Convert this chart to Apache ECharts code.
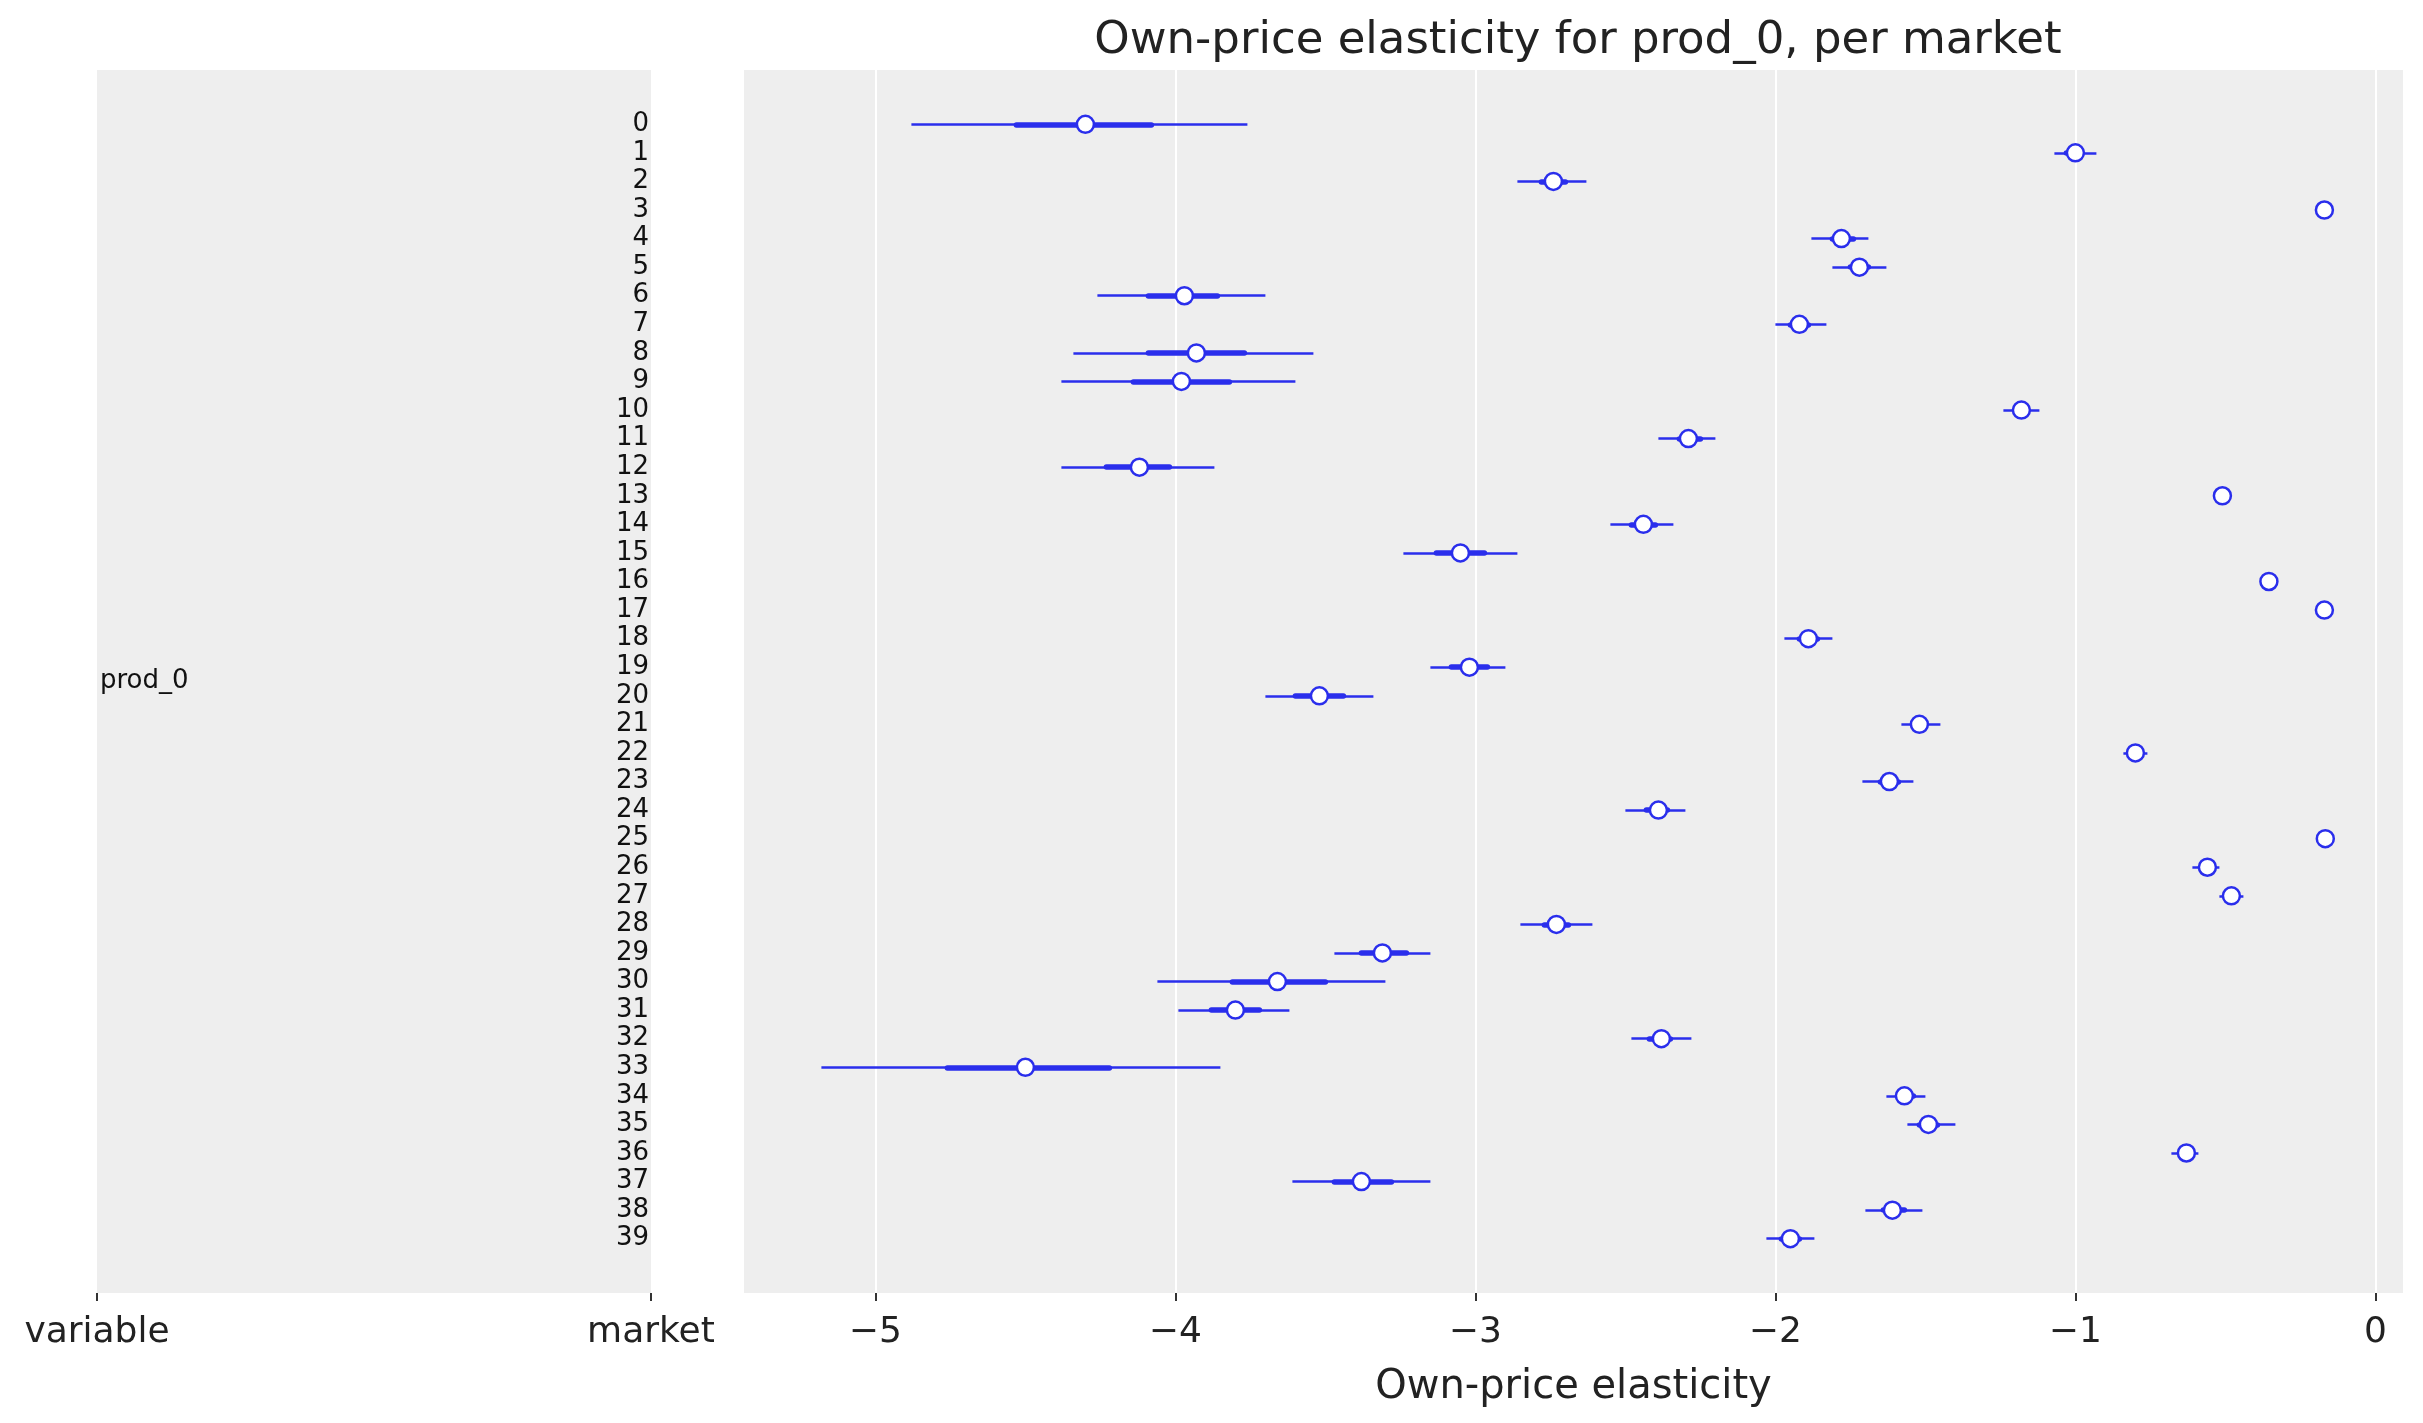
<!DOCTYPE html>
<html>
<head>
<meta charset="utf-8">
<script src="https://cdn.jsdelivr.net/npm/echarts@6/dist/echarts.min.js"></script>
<style>
  html, body { margin: 0; padding: 0; background: #fff; }
  #chart { width: 2423px; height: 1423px; }
</style>
</head>
<body>
<div id="chart"></div>
<script>
// markets 0..39, posterior of own-price elasticity for prod_0
const markets = ['0','1','2','3','4','5','6','7','8','9','10','11','12','13','14','15','16','17','18','19',
                 '20','21','22','23','24','25','26','27','28','29','30','31','32','33','34','35','36','37','38','39'];
const variables = ['prod_0'];
const variablePos = [19.5];
const panelLabels = ['variable', 'market'];
const xTicks = [-5, -4, -3, -2, -1, 0];

const medians = [-4.30, -1.00, -2.74, -0.17, -1.78, -1.72, -3.97, -1.92, -3.93, -3.98,
                 -1.18, -2.29, -4.12, -0.51, -2.44, -3.05, -0.355, -0.17, -1.89, -3.02,
                 -3.52, -1.52, -0.80, -1.62, -2.39, -0.167, -0.56, -0.48, -2.73, -3.31,
                 -3.66, -3.80, -2.38, -4.50, -1.57, -1.49, -0.63, -3.38, -1.61, -1.95];
// 94% HDI
const hdi94Low  = [-4.88, -1.07, -2.86, -0.175, -1.88, -1.81, -4.26, -2.00, -4.34, -4.38,
                   -1.24, -2.39, -4.38, -0.52, -2.55, -3.24, -0.365, -0.175, -1.97, -3.15,
                   -3.70, -1.58, -0.84, -1.71, -2.50, -0.172, -0.61, -0.52, -2.85, -3.47,
                   -4.06, -3.99, -2.48, -5.18, -1.63, -1.56, -0.68, -3.61, -1.70, -2.03];
const hdi94High = [-3.76, -0.93, -2.63, -0.165, -1.69, -1.63, -3.70, -1.83, -3.54, -3.60,
                   -1.12, -2.20, -3.87, -0.50, -2.34, -2.86, -0.345, -0.165, -1.81, -2.90,
                   -3.34, -1.45, -0.76, -1.54, -2.30, -0.162, -0.52, -0.44, -2.61, -3.15,
                   -3.30, -3.62, -2.28, -3.85, -1.50, -1.40, -0.59, -3.15, -1.51, -1.87];
// 50% HDI
const hdi50Low  = [-4.53, -1.03, -2.78, -0.172, -1.81, -1.75, -4.09, -1.95, -4.09, -4.14,
                   -1.20, -2.32, -4.23, -0.515, -2.48, -3.13, -0.36, -0.172, -1.92, -3.08,
                   -3.60, -1.54, -0.81, -1.65, -2.43, -0.169, -0.575, -0.495, -2.77, -3.38,
                   -3.81, -3.88, -2.42, -4.76, -1.59, -1.52, -0.65, -3.47, -1.64, -1.98];
const hdi50High = [-4.08, -0.98, -2.70, -0.168, -1.74, -1.69, -3.86, -1.89, -3.77, -3.82,
                   -1.16, -2.25, -4.02, -0.505, -2.40, -2.97, -0.35, -0.168, -1.86, -2.96,
                   -3.44, -1.50, -0.785, -1.59, -2.36, -0.165, -0.545, -0.465, -2.69, -3.23,
                   -3.50, -3.72, -2.35, -4.22, -1.54, -1.46, -0.615, -3.28, -1.57, -1.92];

const BLUE = '#2a2eec';
const FONT = 'DejaVu Sans';
const rowIdx = markets.map((m, i) => i);

const chart = echarts.init(document.getElementById('chart'));

const option = {
    animation: false,
    backgroundColor: '#ffffff',
    textStyle: { fontFamily: FONT, color: '#222' },
    title: {
        text: 'Own-price elasticity for prod_0, per market',
        left: 1573,
        top: 14,
        textAlign: 'center',
        textStyle: { fontFamily: FONT, fontSize: 45, fontWeight: 'normal', color: '#222' }
    },
    grid: [
        { left: 97, top: 70, width: 554, height: 1223, show: true, backgroundColor: '#eeeeee', borderWidth: 0 },
        { left: 744, top: 70, width: 1659, height: 1223, show: true, backgroundColor: '#eeeeee', borderWidth: 0 }
    ],
    xAxis: [
        {
            gridIndex: 0, type: 'value', min: 0, max: 1, interval: 1, position: 'bottom',
            axisLine: { show: false, onZero: false },
            axisTick: { show: true, length: 8, lineStyle: { color: '#333', width: 2 } },
            splitLine: { show: false },
            axisLabel: {
                fontSize: 36, color: '#222', margin: 22, fontFamily: FONT,
                showMinLabel: true, showMaxLabel: true,
                formatter: v => panelLabels[v]
            }
        },
        {
            gridIndex: 1, type: 'value', min: -5.438, max: 0.092, position: 'bottom',
            name: 'Own-price elasticity', nameLocation: 'middle', nameGap: 75,
            nameTextStyle: { fontSize: 40, color: '#222', fontFamily: FONT },
            axisLine: { show: false, onZero: false },
            axisTick: { show: true, length: 8, customValues: xTicks, lineStyle: { color: '#333', width: 2 } },
            splitLine: { show: true, lineStyle: { color: '#ffffff', width: 2 } },
            axisLabel: {
                fontSize: 36, color: '#222', margin: 22, fontFamily: FONT,
                customValues: xTicks,
                formatter: v => String(v).replace('-', '\u2212')
            }
        }
    ],
    yAxis: [
        {
            gridIndex: 0, type: 'value', inverse: true, min: -1.9, max: 40.9, position: 'right',
            axisLine: { show: false, onZero: false }, axisTick: { show: false }, splitLine: { show: false },
            axisLabel: {
                inside: true, margin: 2, fontSize: 26, color: '#111', fontFamily: FONT,
                padding: [5, 0, 0, 0],
                customValues: rowIdx,
                formatter: v => markets[Math.round(v)]
            }
        },
        {
            gridIndex: 0, type: 'value', inverse: true, min: -1.9, max: 40.9, position: 'left',
            axisLine: { show: false, onZero: false }, axisTick: { show: false }, splitLine: { show: false },
            axisLabel: {
                inside: true, margin: 3, fontSize: 26, color: '#111', fontFamily: FONT,
                padding: [5, 0, 0, 0],
                customValues: variablePos,
                formatter: v => variables[variablePos.indexOf(v)]
            }
        },
        {
            gridIndex: 1, type: 'value', inverse: true, min: -1.9, max: 40.9,
            axisLine: { show: false, onZero: false }, axisTick: { show: false }, splitLine: { show: false },
            axisLabel: { show: false }
        }
    ],
    series: [
        {
            name: 'hdi94', type: 'lines', coordinateSystem: 'cartesian2d',
            xAxisIndex: 1, yAxisIndex: 2, silent: true, z: 2,
            lineStyle: { color: BLUE, width: 2.5, opacity: 1, cap: 'butt' },
            data: rowIdx.map(i => ({ coords: [[hdi94Low[i], i], [hdi94High[i], i]] }))
        },
        {
            name: 'hdi50', type: 'lines', coordinateSystem: 'cartesian2d',
            xAxisIndex: 1, yAxisIndex: 2, silent: true, z: 3,
            lineStyle: { color: BLUE, width: 5.5, opacity: 1, cap: 'round' },
            data: rowIdx.map(i => ({ coords: [[hdi50Low[i], i], [hdi50High[i], i]] }))
        },
        {
            name: 'median', type: 'scatter', xAxisIndex: 1, yAxisIndex: 2, z: 4,
            symbol: 'circle', symbolSize: 17,
            itemStyle: { color: '#ffffff', borderColor: BLUE, borderWidth: 2.5, opacity: 1 },
            data: rowIdx.map(i => [medians[i], i])
        }
    ]
};

chart.setOption(option);
</script>
</body>
</html>
